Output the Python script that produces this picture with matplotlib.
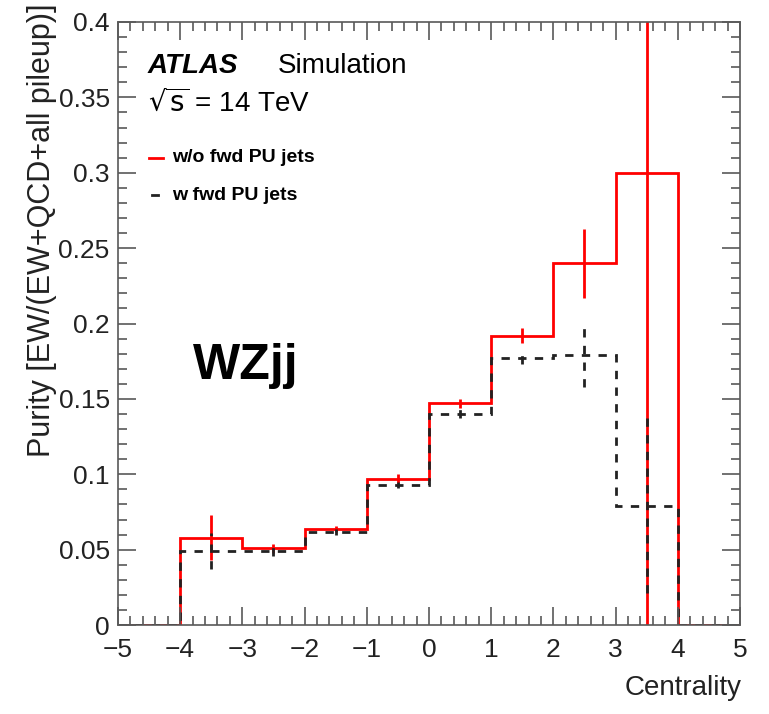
import matplotlib.pyplot as plt
import numpy as np
from matplotlib.ticker import MultipleLocator

plt.rcParams['font.family'] = ['Liberation Sans', 'DejaVu Sans']

# bin edges of Centrality, one unit wide
edges = np.arange(-5, 6, 1)
centers = edges[:-1] + 0.5
xlabels = ['\u22125', '\u22124', '\u22123', '\u22122', '\u22121', '0', '1', '2', '3', '4', '5']
yticks = [0, 0.05, 0.1, 0.15, 0.2, 0.25, 0.3, 0.35, 0.4]
ylabels = ['0', '0.05', '0.1', '0.15', '0.2', '0.25', '0.3', '0.35', '0.4']

# purity without forward pileup jets
purity_wo = [0.0, 0.058, 0.051, 0.064, 0.097, 0.147, 0.192, 0.240, 0.300, 0.0]
err_wo = [0.0, 0.015, 0.003, 0.002, 0.003, 0.003, 0.005, 0.023, 0.35, 0.0]

# purity with forward pileup jets
purity_w = [0.0, 0.049, 0.049, 0.062, 0.093, 0.140, 0.177, 0.179, 0.079, 0.0]
err_w = [0.0, 0.012, 0.003, 0.002, 0.002, 0.003, 0.004, 0.021, 0.058, 0.0]

fig = plt.figure(figsize=(7.69, 7.14), dpi=100)
ax = fig.add_axes([0.1534, 0.1246, 0.8089, 0.8446])

ax.stairs(purity_wo, edges, color='red', lw=2, baseline=0)
m = np.array(err_wo) > 0
ax.vlines(centers[m], np.array(purity_wo)[m] - np.array(err_wo)[m],
          np.array(purity_wo)[m] + np.array(err_wo)[m], color='red', lw=2)

ax.stairs(purity_w, edges, color='#222222', lw=2, ls=(0, (3, 3)), baseline=0)
m = np.array(err_w) > 0
ax.vlines(centers[m], np.array(purity_w)[m] - np.array(err_w)[m],
          np.array(purity_w)[m] + np.array(err_w)[m], color='#222222', lw=2,
          linestyles=(0, (3, 3)))

ax.set_xlim(-5, 5)
ax.set_ylim(0, 0.4)
ax.set_xticks(edges, xlabels)
ax.set_yticks(yticks, ylabels)
ax.xaxis.set_minor_locator(MultipleLocator(0.2))
ax.yaxis.set_minor_locator(MultipleLocator(0.01))

ax.tick_params(which='both', direction='in', top=True, right=True, color='0.35', width=1.2)
ax.tick_params(which='major', length=13, labelsize=19, pad=6, labelcolor='#222222')
ax.tick_params(axis='x', which='major', pad=9)
ax.tick_params(which='minor', length=6.5)
for s in ax.spines.values():
    s.set_color('0.35')
    s.set_linewidth(1.2)

ax.set_ylabel('Purity [EW/(EW+QCD+all pileup)]', fontsize=22, loc='top', color='#222222')
ax.yaxis.set_label_coords(-0.098, 1.03)
fig.text(0.965, 0.027, 'Centrality', fontsize=20, ha='right', va='baseline', color='#222222')

ax.text(0.048, 0.915, 'ATLAS', transform=ax.transAxes, fontsize=20,
        fontweight='bold', style='italic', va='baseline')
ax.text(0.257, 0.915, 'Simulation', transform=ax.transAxes, fontsize=20, va='baseline')
ax.text(0.048, 0.853, r'$\sqrt{\mathrm{s}}$ = 14 TeV', transform=ax.transAxes,
        fontsize=20, va='baseline')

ax.plot([0.05, 0.072], [0.775, 0.775], transform=ax.transAxes, color='red', lw=2)
ax.text(0.087, 0.775, 'w/o fwd PU jets', transform=ax.transAxes, fontsize=14,
        fontweight='bold', va='center')
ax.plot([0.055, 0.065], [0.713, 0.713], transform=ax.transAxes, color='#222222', lw=2)
ax.text(0.087, 0.713, 'w fwd PU jets', transform=ax.transAxes, fontsize=14,
        fontweight='bold', va='center')

ax.text(-3.8, 0.163, 'WZjj', fontsize=36, fontweight='bold', va='baseline')

fig.savefig('out.png', dpi=100)
